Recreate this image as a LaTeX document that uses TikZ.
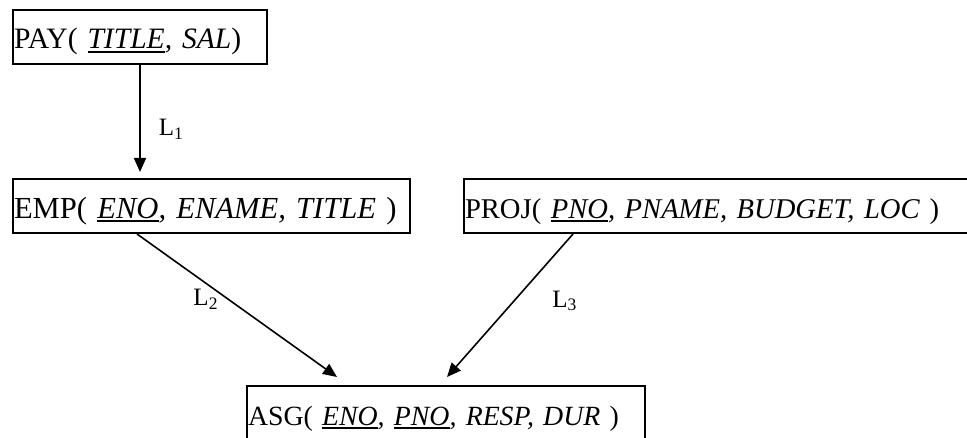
\documentclass[tikz,border=0pt]{standalone}
\usepackage{fontspec}
\setmainfont{Liberation Serif}
\usetikzlibrary{arrows.meta,calc}
\tikzset{
  relation/.style={draw, line width=1pt, anchor=north west, inner xsep=0.5pt,
    inner ysep=0pt, text height=19.5pt, text depth=7.5pt, align=left},
  fsize/.style={font=\fontsize{#1}{16}\selectfont},
  link/.style={-{Triangle[length=7pt,width=6pt]}, line width=0.8pt},
  linklabel/.style={font=\fontsize{12.5}{14}\selectfont, inner sep=0pt},
}
% key attribute: underlined with a rule below the baseline
\newcommand{\keyattr}[1]{\setbox0\hbox{#1}\rlap{\rule[-1.9pt]{\wd0}{0.85pt}}\box0}
\begin{document}
\begin{tikzpicture}[x=0.5pt,y=-0.5pt]
\useasboundingbox (0,0) rectangle (967,438);
% relations
\node[relation, fsize=14.8, text width=126pt] (pay) at (12,9)
  {PAY( \textit{\keyattr{TITLE}, SAL})};
\node[relation, fsize=15.3, text width=197.5pt] (emp) at (12,178)
  {EMP( \textit{\keyattr{ENO}, ENAME, TITLE} )};
\node[relation, fsize=14.3, text width=252pt] (proj) at (463,178)
  {PROJ( \textit{\keyattr{PNO}, PNAME, BUDGET, LOC} )};
\node[relation, fsize=13.9, text width=198pt] (asg) at (246,385)
  {ASG( \textit{\keyattr{ENO}, \keyattr{PNO}, RESP, DUR} )};
% links between relations
\draw[link] (pay.south) -- ($(pay.south |- emp.north)+(0,-6)$)
  node[linklabel, pos=0.6, anchor=west, xshift=9pt] {L\textsubscript{1}};
\draw[link] ($(emp.south west)+(125,0)$) -- ($(asg.north west)+(91,-8)$)
  node[linklabel, pos=0.455, xshift=-11pt] {L\textsubscript{2}};
\draw[link] ($(proj.south west)+(110,0)$) -- ($(asg.north west)+(201,-8)$)
  node[linklabel, pos=0.469, xshift=25.5pt] {L\textsubscript{3}};
\end{tikzpicture}
\end{document}
